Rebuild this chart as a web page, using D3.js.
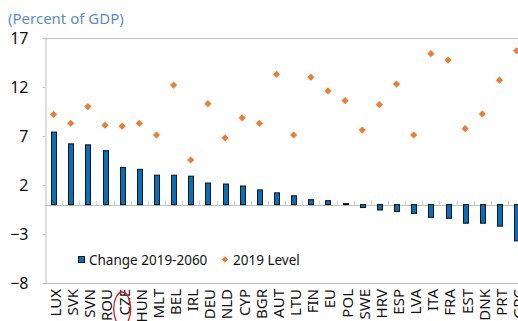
<!DOCTYPE html>
<html>
<head>
<meta charset="utf-8">
<script src="https://cdn.jsdelivr.net/npm/d3@7"></script>
<style>
  html, body { margin: 0; padding: 0; background: #fff; }
  svg { display: block; font-family: "Noto Sans", "Open Sans", sans-serif; }
</style>
</head>
<body>
<svg id="chart" width="518" height="321"></svg>
<script>
// Pension spending by country, percent of GDP
const countries = ["LUX","SVK","SVN","ROU","CZE","HUN","MLT","BEL","IRL","DEU","NLD","CYP","BGR","AUT",
                   "LTU","FIN","EU","POL","SWE","HRV","ESP","LVA","ITA","FRA","EST","DNK","PRT","GRC"];
const change2019to2060 = [7.4, 6.2, 6.1, 5.5, 3.8, 3.6, 3.0, 3.0, 2.9, 2.2, 2.1, 1.9, 1.5, 1.2,
                          0.9, 0.5, 0.4, 0.1, -0.3, -0.55, -0.7, -0.9, -1.3, -1.4, -1.9, -1.9, -2.2, -3.7];
const level2019 = [9.2, 8.3, 10.0, 8.1, 8.0, 8.3, 7.1, 12.2, 4.55, 10.3, 6.8, 8.85, 8.3, 13.3,
                   7.1, 13.0, 11.6, 10.6, 7.6, 10.2, 12.3, 7.1, 15.4, 14.75, 7.75, 9.25, 12.7, 15.7];
const yTicks = [-8, -3, 2, 7, 12, 17];
const seriesNames = ["Change 2019-2060", "2019 Level"];
const highlighted = "CZE";

const svg = d3.select("#chart");
const plotLeft = 45, plotTop = 38, plotBottom = 283;
const step = 17.15;
const plotRight = plotLeft + step * countries.length;

const x = d3.scaleBand().domain(countries).range([plotLeft, plotRight]).padding(0);
const y = d3.scaleLinear().domain([-8, 17]).range([plotBottom, plotTop]);

const axisGray = "#bfbfbf";
const blue = "#0070C0";
const orange = "#ED7D31";

// subtitle
svg.append("text")
  .attr("x", 8).attr("y", 24)
  .attr("fill", "#5b8bc5")
  .attr("font-size", 15)
  .text("(Percent of GDP)");

// frame: top and bottom lines
svg.append("line").attr("x1", plotLeft).attr("x2", plotRight).attr("y1", plotTop + 0.5).attr("y2", plotTop + 0.5)
  .attr("stroke", axisGray);
svg.append("line").attr("x1", plotLeft).attr("x2", plotRight).attr("y1", plotBottom + 0.5).attr("y2", plotBottom + 0.5)
  .attr("stroke", axisGray);

// y axis
const yAxis = d3.axisLeft(y).tickValues(yTicks).tickSize(3).tickPadding(14);
const gy = svg.append("g").attr("transform", `translate(${plotLeft + 0.5},0)`).call(yAxis);
gy.select(".domain").attr("stroke", axisGray);
gy.selectAll(".tick line").attr("stroke", axisGray);
gy.selectAll(".tick text").attr("font-size", 16).attr("fill", "#111")
  .attr("font-family", "Noto Sans, sans-serif");

// zero line with category ticks
const zeroY = Math.round(y(0)) + 0.5;
svg.append("line").attr("x1", plotLeft).attr("x2", plotRight).attr("y1", zeroY).attr("y2", zeroY)
  .attr("stroke", axisGray);
svg.append("g").selectAll("line")
  .data(countries.slice(1))
  .join("line")
  .attr("x1", d => Math.round(x(d)) + 0.5)
  .attr("x2", d => Math.round(x(d)) + 0.5)
  .attr("y1", zeroY - 5).attr("y2", zeroY)
  .attr("stroke", "#d0d0d0");

// bars
const barW = 5;
svg.append("g").selectAll("rect")
  .data(countries.map((c, i) => ({c, v: change2019to2060[i]})))
  .join("rect")
  .attr("x", d => Math.round(x(d.c) + x.bandwidth() / 2 - barW / 2) + 0.5)
  .attr("width", barW)
  .attr("y", d => y(Math.max(0, d.v)))
  .attr("height", d => Math.abs(y(d.v) - y(0)))
  .attr("fill", blue)
  .attr("stroke", "#111")
  .attr("stroke-width", 1);

// diamonds
const diamond = d3.symbol().type(d3.symbolSquare).size(26);
svg.append("g").selectAll("path")
  .data(countries.map((c, i) => ({c, v: level2019[i]})))
  .join("path")
  .attr("d", diamond)
  .attr("transform", d => `translate(${x(d.c) + x.bandwidth() / 2},${y(d.v)}) rotate(45)`)
  .attr("fill", orange);

// category labels
svg.append("g").selectAll("text")
  .data(countries)
  .join("text")
  .attr("transform", d => `translate(${x(d) + x.bandwidth() / 2 + 2},289) rotate(-90)`)
  .attr("dy", "0.36em")
  .attr("text-anchor", "end")
  .attr("font-size", 15)
  .attr("fill", "#111")
  .text(d => d);

// highlight ring
const hx = x(highlighted) + x.bandwidth() / 2;
svg.append("ellipse")
  .attr("cx", hx).attr("cy", 309).attr("rx", 8.5).attr("ry", 17)
  .attr("fill", "none").attr("stroke", "#e8141b").attr("stroke-width", 1.3);

// legend
const lg = svg.append("g");
lg.append("rect").attr("x", 78.5).attr("y", 256.5).attr("width", 6).attr("height", 6)
  .attr("fill", blue).attr("stroke", "#111");
lg.append("text").attr("x", 89).attr("y", 264.5).attr("font-size", 13.5).attr("fill", "#111")
  .text(seriesNames[0]);
lg.append("path").attr("d", d3.symbol().type(d3.symbolSquare).size(22))
  .attr("transform", "translate(225,259.5) rotate(45)").attr("fill", orange);
lg.append("text").attr("x", 233).attr("y", 264.5).attr("font-size", 13.5).attr("fill", "#111")
  .text(seriesNames[1]);
</script>
</body>
</html>
